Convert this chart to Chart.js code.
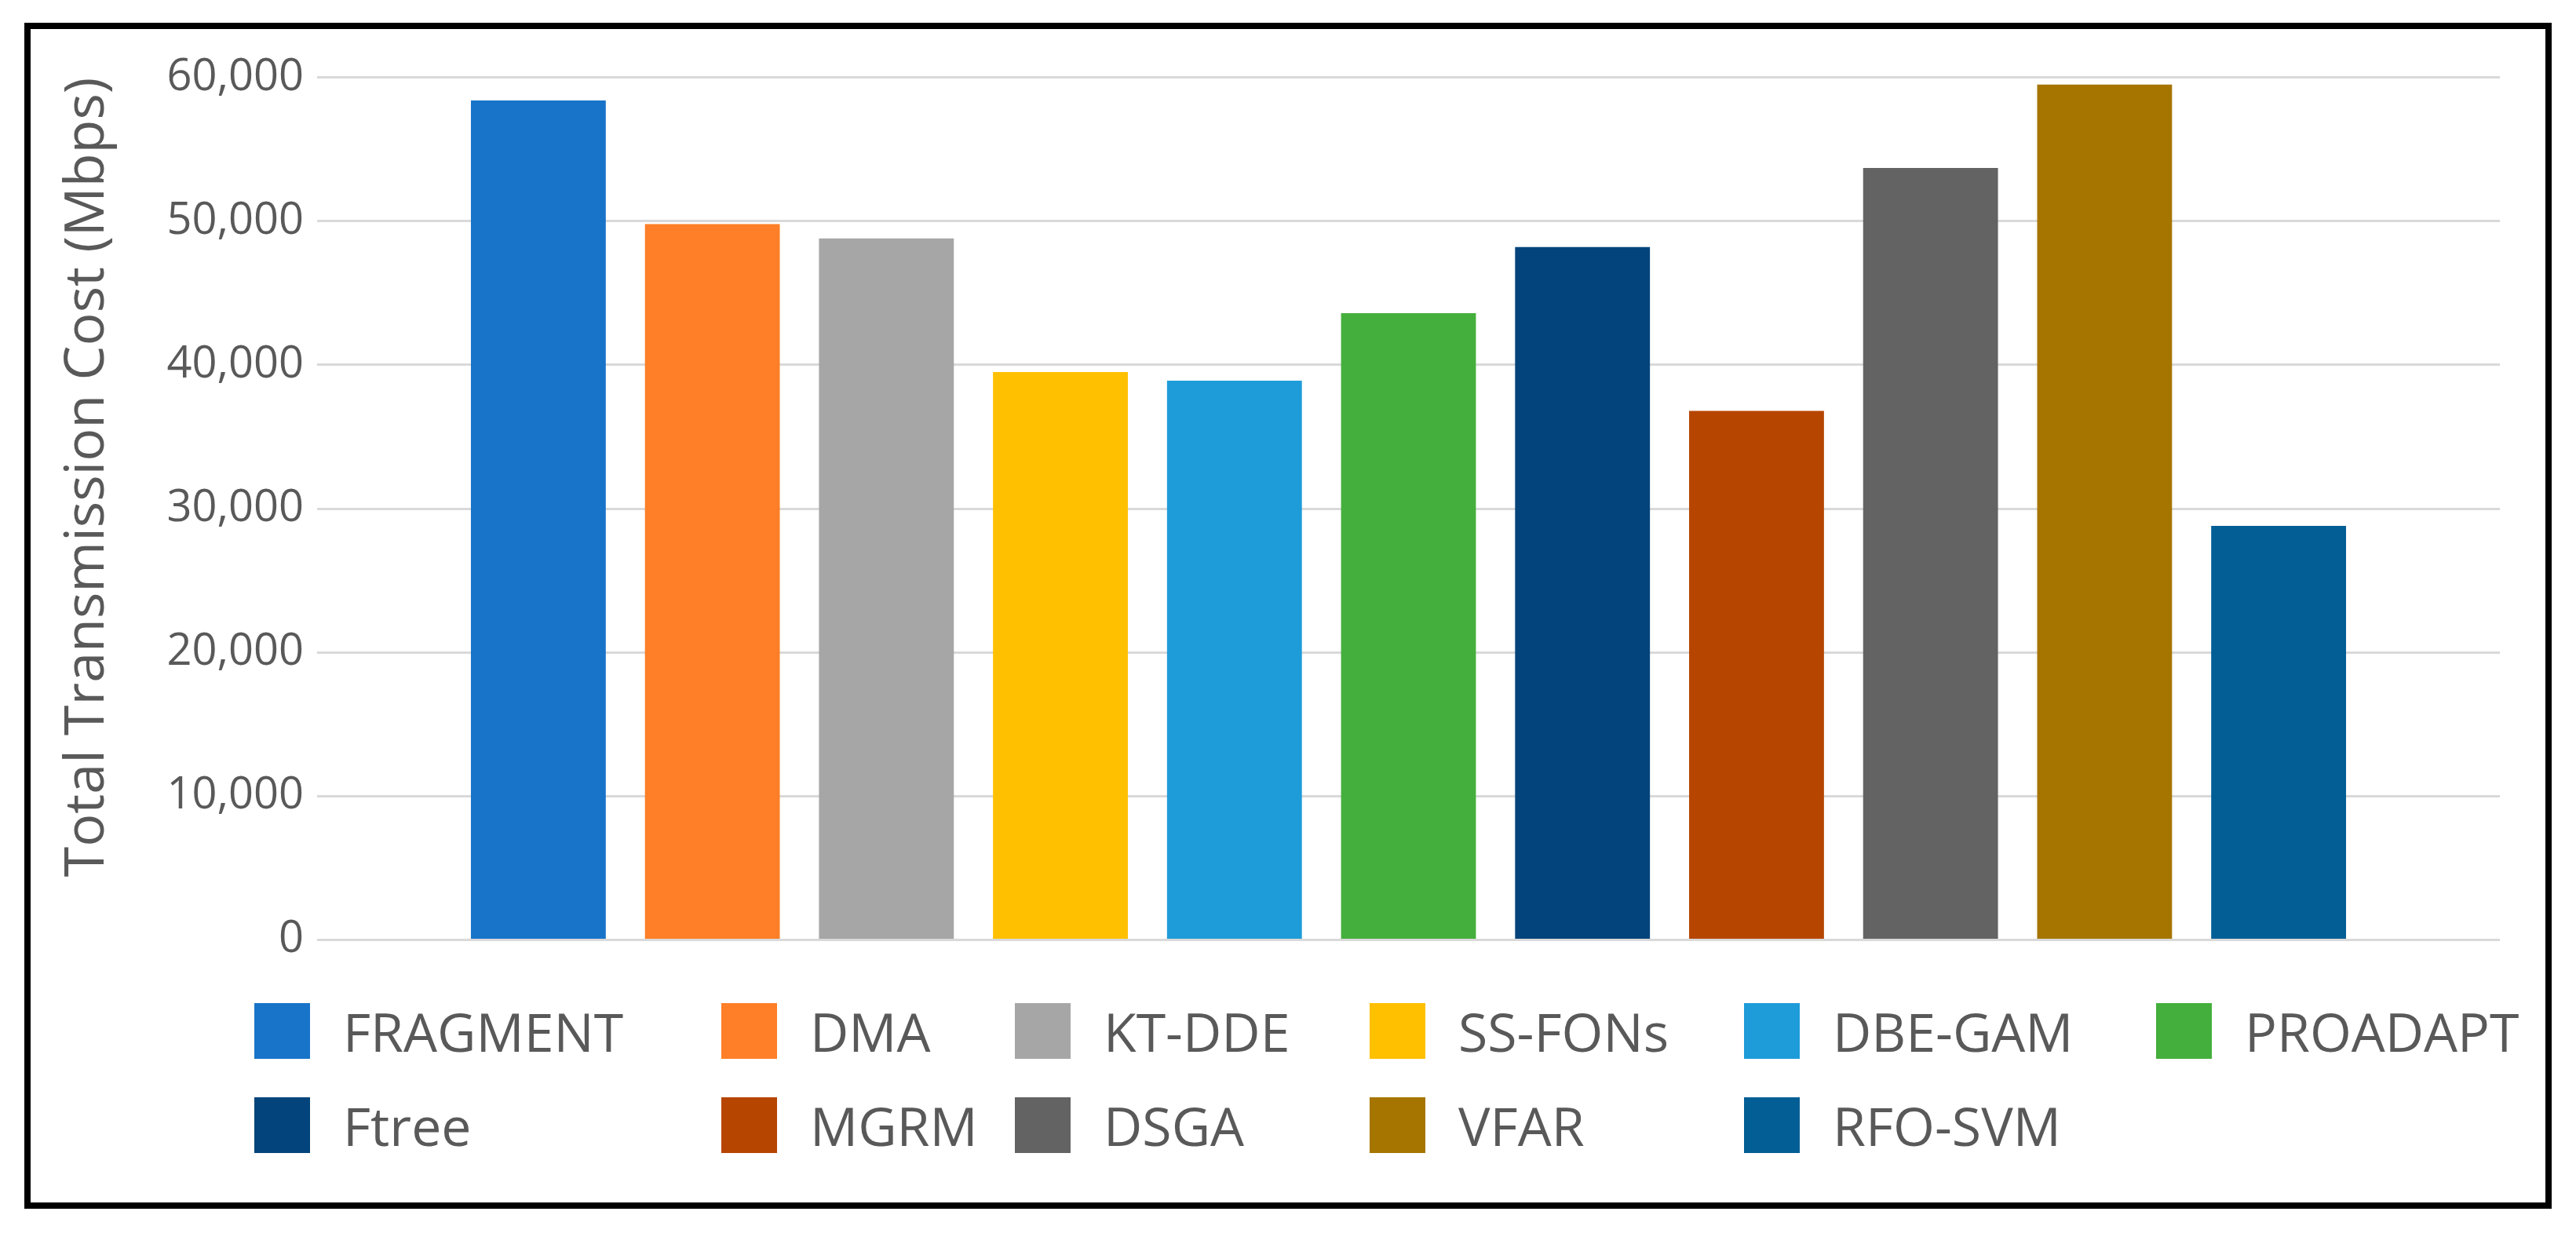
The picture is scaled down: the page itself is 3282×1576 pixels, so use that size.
<!DOCTYPE html>
<html>
<head>
<meta charset="utf-8">
<script src="https://cdn.jsdelivr.net/npm/chart.js@4.4.1/dist/chart.umd.min.js"></script>
<style>
  body{margin:0;background:#fff;font-family:"Open Sans",sans-serif;}
  #page{position:relative;width:3282px;height:1576px;overflow:hidden;background:#fff;}
  #frame{position:absolute;left:31px;top:29px;width:3220px;height:1511px;border:8px solid #000;box-sizing:border-box;}
  #chartBox{position:absolute;left:40px;top:48px;width:3200px;height:1200px;}
  #legend{position:absolute;left:324px;top:1278px;display:grid;
    grid-template-columns:595px 374px 452px 477px 525px auto;row-gap:49px;}
  .item{display:flex;align-items:center;height:71px;}
  .box{width:71px;height:71px;margin-right:42px;flex:none;}
  .label{font-size:68px;color:#595959;white-space:nowrap;line-height:1;}
</style>
</head>
<body>
<div id="page">
  <div id="frame"></div>
  <div id="chartBox"><canvas id="costChart"></canvas></div>
  <div id="legend"></div>
</div>
<script>
// methods compared, one bar each
const methods = ["FRAGMENT","DMA","KT-DDE","SS-FONs","DBE-GAM","PROADAPT","Ftree","MGRM","DSGA","VFAR","RFO-SVM"];
const costs = [58400, 49800, 48800, 39500, 38900, 43600, 48200, 36800, 53700, 59500, 28800];
const barColors = ["#1874C9","#FE7F27","#A6A6A6","#FFC000","#1E9CD9","#44AF3C","#02447B","#B64500","#636363","#A67500","#025E95"];
const yTicks = [0, 10000, 20000, 30000, 40000, 50000, 60000];

function renderCostChart(){
    const ctx = document.getElementById("costChart").getContext("2d");
    const chart = new Chart(ctx,{
        type:"bar",
        data:{
            labels:[""],
            datasets:methods.map((m,i)=>({
                label:m,
                data:[costs[i]],
                backgroundColor:barColors[i],
                borderWidth:0,
                categoryPercentage:0.877,
                barPercentage:0.775
            }))
        },
        options:{
            responsive:true,
            maintainAspectRatio:false,
            animation:false,
            layout:{padding:{top:28,right:55,bottom:9,left:0}},
            plugins:{legend:{display:false},tooltip:{enabled:false}},
            scales:{
                x:{display:false},
                y:{
                    min:yTicks[0],
                    max:yTicks[yTicks.length-1],
                    afterBuildTicks:(scale)=>{scale.ticks = yTicks.map(v=>({value:v}));},
                    afterFit:(scale)=>{scale.width = 364;},
                    border:{display:false},
                    grid:{color:"#d9d9d9",lineWidth:3,drawTicks:false},
                    ticks:{
                        color:"#595959",
                        padding:17,
                        font:{family:"Open Sans",size:56},
                        callback:(v)=>v.toLocaleString("en-US")
                    },
                    title:{
                        display:true,
                        text:"Total Transmission Cost (Mbps)",
                        align:"end",
                        color:"#595959",
                        padding:{top:30,bottom:0},
                        font:{family:"Open Sans",size:70}
                    }
                }
            }
        }
    });

    // legend laid out in columns like the original
    const legend = document.getElementById("legend");
    chart.options.plugins.legend.labels.generateLabels(chart).forEach(item=>{
        const el = document.createElement("div");
        el.className = "item";
        el.innerHTML = '<span class="box" style="background:'+item.fillStyle+'"></span><span class="label">'+item.text+'</span>';
        legend.appendChild(el);
    });
}
renderCostChart();
</script>
</body>
</html>
